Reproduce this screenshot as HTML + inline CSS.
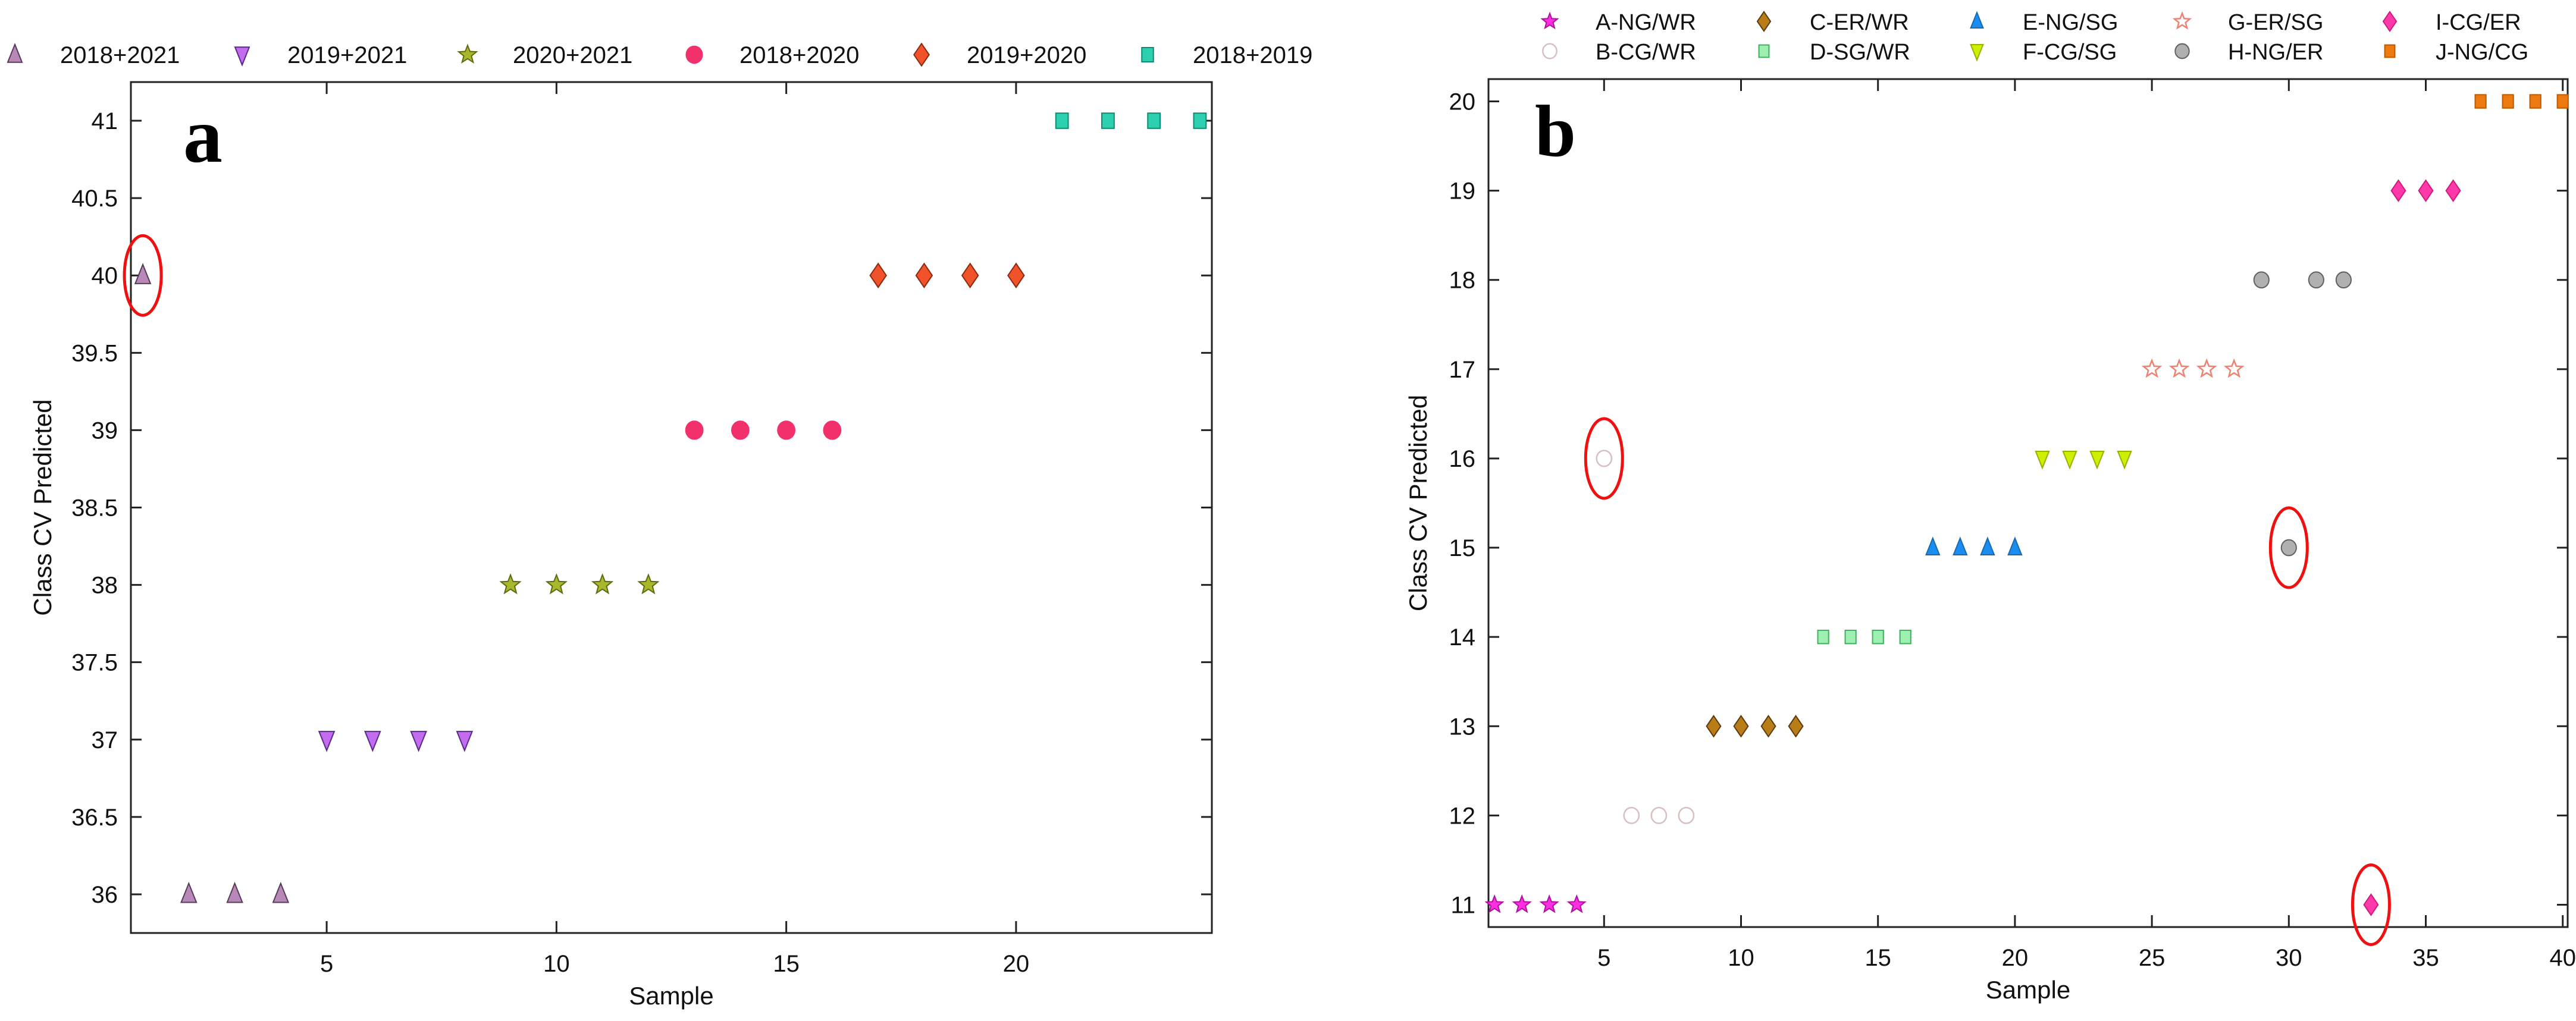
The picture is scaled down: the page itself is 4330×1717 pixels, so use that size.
<!DOCTYPE html>
<html><head><meta charset="utf-8"><style>
html,body{margin:0;padding:0;background:#fff;}
svg{display:block;font-family:"Liberation Sans",Arial,sans-serif;}
</style></head>
<body>
<svg id="fig" width="4330" height="1717" viewBox="0 0 4330 1717" xmlns="http://www.w3.org/2000/svg">
<rect width="4330" height="1717" fill="#fff"/>
</svg>
<script>
// ---------- Panel a data ----------
const aSeriesNames = ["2018+2021","2019+2021","2020+2021","2018+2020","2019+2020","2018+2019"];
const aSeriesX = [[1,2,3,4],[5,6,7,8],[9,10,11,12],[13,14,15,16],[17,18,19,20],[21,22,23,24]];
const aSeriesY = [[40,36,36,36],[37,37,37,37],[38,38,38,38],[39,39,39,39],[40,40,40,40],[41,41,41,41]];
const aYTicks = [36,36.5,37,37.5,38,38.5,39,39.5,40,40.5,41];
const aXTicks = [5,10,15,20];
const aCircled = [[1,40]];
// ---------- Panel b data ----------
const bSeriesNames = ["A-NG/WR","B-CG/WR","C-ER/WR","D-SG/WR","E-NG/SG","F-CG/SG","G-ER/SG","H-NG/ER","I-CG/ER","J-NG/CG"];
const bSeriesX = [[1,2,3,4],[5,6,7,8],[9,10,11,12],[13,14,15,16],[17,18,19,20],[21,22,23,24],[25,26,27,28],[29,30,31,32],[33,34,35,36],[37,38,39,40]];
const bSeriesY = [[11,11,11,11],[16,12,12,12],[13,13,13,13],[14,14,14,14],[15,15,15,15],[16,16,16,16],[17,17,17,17],[18,15,18,18],[11,19,19,19],[20,20,20,20]];
const bYTicks = [11,12,13,14,15,16,17,18,19,20];
const bXTicks = [5,10,15,20,25,30,35,40];
const bCircled = [[5,16],[30,15],[33,11]];

const NS="http://www.w3.org/2000/svg";
const svg=document.getElementById('fig');
function el(tag,attrs,parent){const e=document.createElementNS(NS,tag);for(const k in attrs)e.setAttribute(k,attrs[k]);(parent||svg).appendChild(e);return e;}

const aStyles=[
 {shape:'tri',fill:'#b888b8',stroke:'#5a3a5a'},
 {shape:'dtri',fill:'#c46cf0',stroke:'#5a2a8a'},
 {shape:'star',fill:'#a8b82a',stroke:'#606a10'},
 {shape:'circle',fill:'#f2306c',stroke:'#f2306c'},
 {shape:'diamond',fill:'#f0522a',stroke:'#8a2a10'},
 {shape:'square',fill:'#2ccfb0',stroke:'#108a70'}];
const bStyles=[
 {shape:'star',fill:'#ff2ee0',stroke:'#b010a0'},
 {shape:'ocircle',fill:'none',stroke:'#d8c0c0'},
 {shape:'diamond',fill:'#b97d18',stroke:'#5a3a10'},
 {shape:'square',fill:'#9ef0b0',stroke:'#40b060'},
 {shape:'tri',fill:'#1a8ef0',stroke:'#1a6ab0'},
 {shape:'dtri',fill:'#ccf000',stroke:'#9ab000'},
 {shape:'ostar',fill:'none',stroke:'#f08070'},
 {shape:'circle',fill:'#b0b0b0',stroke:'#606060'},
 {shape:'diamond',fill:'#ff3aa8',stroke:'#d01880'},
 {shape:'square',fill:'#ec7a0e',stroke:'#c05a00'}];

function marker(g,st,cx,cy,s){
  const h=s/2;let e;
  switch(st.shape){
    case 'tri': e=el('polygon',{points:`${cx},${cy-h*1.15} ${cx-h*0.8},${cy+h*0.85} ${cx+h*0.8},${cy+h*0.85}`},g);break;
    case 'dtri': e=el('polygon',{points:`${cx},${cy+h*1.15} ${cx-h*0.8},${cy-h*0.85} ${cx+h*0.8},${cy-h*0.85}`},g);break;
    case 'diamond': e=el('polygon',{points:`${cx},${cy-h*1.25} ${cx+h*0.85},${cy} ${cx},${cy+h*1.25} ${cx-h*0.85},${cy}`},g);break;
    case 'square': e=el('rect',{x:cx-h*0.65,y:cy-h*0.8,width:h*1.3,height:h*1.6},g);break;
    case 'circle': case 'ocircle': e=el('ellipse',{cx:cx,cy:cy,rx:h*0.9,ry:h*0.95},g);break;
    case 'star': case 'ostar': {
      let p=[];for(let i=0;i<10;i++){const r=i%2?h*0.45:h*1.05;const a=-Math.PI/2+i*Math.PI/5;p.push((cx+r*Math.cos(a)).toFixed(1)+','+(cy+r*Math.sin(a)).toFixed(1));}
      e=el('polygon',{points:p.join(' ')},g);break;}
  }
  e.setAttribute('fill',st.fill);e.setAttribute('stroke',st.stroke);e.setAttribute('stroke-width',st.shape.startsWith('o')?2.5:2);
  return e;
}

function panel(cfg){
  const g=el('g',{});
  
  
  const X=v=>cfg.L+(v-cfg.xmin)/(cfg.xmax-cfg.xmin)*(cfg.R-cfg.L);
  const Y=v=>cfg.B-(v-cfg.ymin)/(cfg.ymax-cfg.ymin)*(cfg.B-cfg.T);
  const frame=el('rect',{x:cfg.L,y:cfg.T,width:cfg.R-cfg.L,height:cfg.B-cfg.T,fill:'none',stroke:'#222','stroke-width':3},g);
  
  
  cfg.yTicks.forEach(v=>{
    const y=Y(v);
    el('line',{x1:cfg.L,y1:y,x2:cfg.L+18,y2:y,stroke:'#222','stroke-width':3},g);
    el('line',{x1:cfg.R,y1:y,x2:cfg.R-18,y2:y,stroke:'#222','stroke-width':3},g);
    const t=el('text',{x:cfg.L-22,y:y+14,'text-anchor':'end','font-size':40,fill:'#111'},g);
    t.textContent=String(v);
    
    
  });
  cfg.xTicks.forEach(v=>{
    const x=X(v);
    el('line',{x1:x,y1:cfg.B,x2:x,y2:cfg.B-20,stroke:'#222','stroke-width':3},g);
    el('line',{x1:x,y1:cfg.T,x2:x,y2:cfg.T+20,stroke:'#222','stroke-width':3},g);
    const t=el('text',{x:x,y:cfg.B+65,'text-anchor':'middle','font-size':40,fill:'#111'},g);
    t.textContent=String(v);
    
    
  });
  const xt=el('text',{x:(cfg.L+cfg.R)/2,y:cfg.B+120,'text-anchor':'middle','font-size':42,fill:'#111'},g);
  xt.textContent='Sample';
  
  
  const yt=el('text',{x:cfg.ytx,y:(cfg.T+cfg.B)/2,'text-anchor':'middle','font-size':42,fill:'#111',transform:`rotate(-90 ${cfg.ytx} ${(cfg.T+cfg.B)/2})`},g);
  yt.textContent='Class CV Predicted';
  
  
  const pl=el('text',{x:cfg.L+cfg.plx,y:cfg.T+cfg.ply,'font-size':cfg.plsize,'font-weight':'bold','font-family':'"Liberation Serif",serif',fill:'#000'},g);
  pl.textContent=cfg.label;
  
  
  cfg.xs.forEach((xs,i)=>{
    const sg=el('g',{},g);
    
    
    xs.forEach((xv,j)=>{
      const m=marker(sg,cfg.styles[i],X(xv),Y(cfg.ys[i][j]),cfg.ms);
      
      
    });
  });
  cfg.circled.forEach(c=>{
    const e=el('ellipse',{cx:X(c[0]),cy:Y(c[1]),rx:31,ry:67,fill:'none',stroke:'#f01010','stroke-width':5},g);
    
    
  });
  cfg.names.forEach((n,i)=>{
    const p=cfg.legendPos(i);
    const lg=el('g',{},g);
    
    
    marker(lg,cfg.styles[i],p[0],p[1],cfg.lms);
    const t=el('text',{x:p[0]+cfg.lgap,y:p[1]+14,'font-size':cfg.lfs,fill:'#111'},lg);
    t.textContent=n;
  });
}

panel({name:'panel-a',L:220,R:2037,T:138,B:1569,xmin:0.74,xmax:24.26,ymin:35.75,ymax:41.25,
  yTicks:aYTicks,xTicks:aXTicks,ytx:86,label:'a',plx:88,ply:134,plsize:132,
  xs:aSeriesX,ys:aSeriesY,names:aSeriesNames,styles:aStyles,ms:32,circled:aCircled,
  legendPos:i=>[[25,407,786,1167,1549,1929][i],92],lgap:76,lms:30,lfs:40});
panel({name:'panel-b',L:2502,R:4316,T:133,B:1559,xmin:0.78,xmax:40.18,ymin:10.75,ymax:20.25,
  yTicks:bYTicks,xTicks:bXTicks,ytx:2398,label:'b',plx:78,ply:129,plsize:124,
  xs:bSeriesX,ys:bSeriesY,names:bSeriesNames,styles:bStyles,ms:28,circled:bCircled,
  legendPos:i=>[[2605,2965,3323,3668,4017][Math.floor(i/2)],i%2?86:36],lgap:77,lms:26,lfs:38});
</script>
</body></html>
